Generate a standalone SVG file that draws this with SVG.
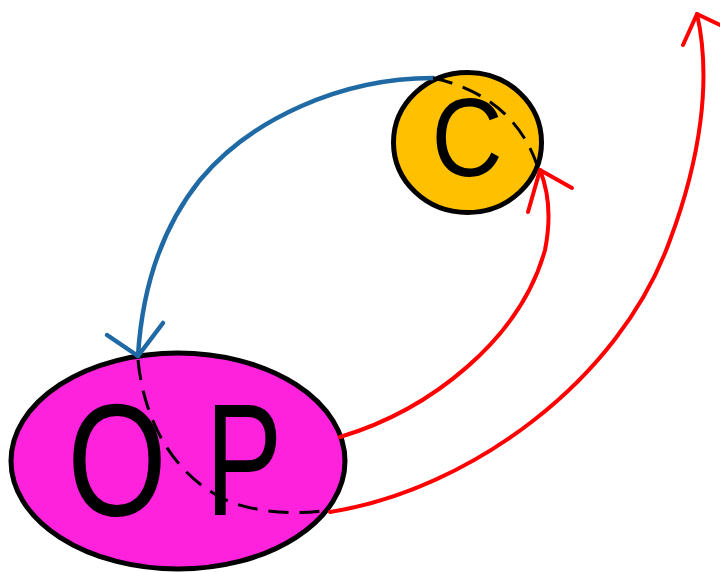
<svg xmlns="http://www.w3.org/2000/svg" width="720" height="572" viewBox="0 0 720 572">
<style>
.node{stroke:#000;stroke-width:5}
.lbl{font-family:"Liberation Sans",Arial,sans-serif;fill:#000;text-anchor:middle}
.red{fill:none;stroke:#ff0000;stroke-width:4;stroke-linecap:round;stroke-linejoin:round}
.blue{fill:none;stroke:#1f6aa5;stroke-width:4.5;stroke-linecap:round;stroke-linejoin:round}
.dash{fill:none;stroke:#000;stroke-width:3;stroke-dasharray:20 11}
</style>
<rect width="720" height="572" fill="#fff"/>
<g id="node-OP">
<ellipse class="node" cx="178" cy="461" rx="167" ry="108" fill="#ff22dd"/>
<text class="lbl" font-size="160" transform="translate(117,515) scale(0.8,1)">O</text>
<text class="lbl" font-size="160" transform="translate(244,515) scale(0.72,1)">P</text>
</g>
<g id="node-C">
<ellipse class="node" cx="467.5" cy="142.5" rx="74" ry="70" fill="#ffc000"/>
<text class="lbl" font-size="112" transform="translate(467,176) scale(0.88,1)">C</text>
</g>
<g id="connectors">
<path class="blue" d="M433,78 C340,78 250,120 200,180 C160,230 142,290 138,356"/>
<path class="blue" d="M107,335 L138,356 L163,323"/>
<path class="dash" d="M138,360 C145,430 180,480 230,502 C260,513 300,515 328,510"/>
<path class="dash" d="M433,78 C480,88 520,115 537,165"/>
<path class="red" d="M340,437 C430,410 520,340 545,250 C552,215 548,190 540,170"/>
<path class="red" d="M528,212 L540,170 L572,188"/>
<path class="red" d="M330,512 C470,490 620,380 670,240 C700,160 712,80 697,14"/>
<path class="red" d="M683,45 L697,14 L720,25"/>
</g>
</svg>
